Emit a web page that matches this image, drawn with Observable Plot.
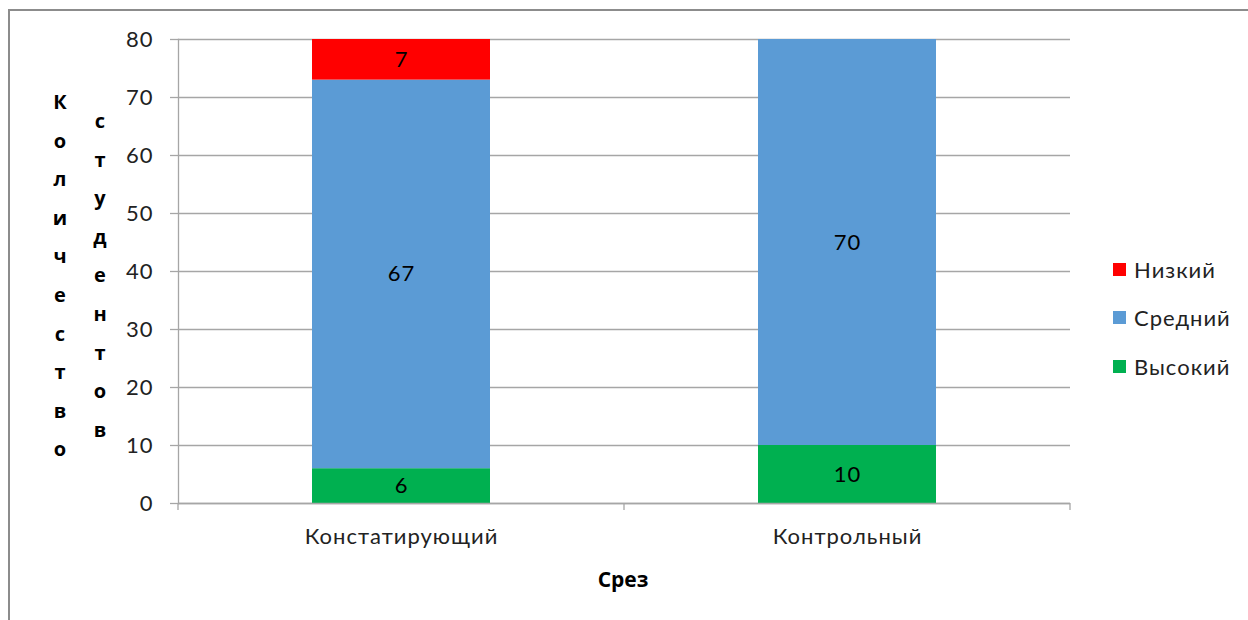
<!DOCTYPE html>
<html>
<head>
<meta charset="utf-8">
<script src="https://cdn.jsdelivr.net/npm/d3@7"></script>
<script src="https://cdn.jsdelivr.net/npm/@observablehq/plot@0.6"></script>
<style>
  html, body { margin: 0; padding: 0; background: #fff; }
  #wrap { position: relative; width: 1248px; height: 620px; overflow: hidden; font-family: Lato, "Noto Sans", sans-serif; }
  #frame { position: absolute; left: 8px; top: 9px; width: 1300px; height: 700px; border-left: 2px solid #8c8c8c; border-top: 2px solid #8c8c8c; }
  #chart { position: absolute; left: 0; top: 0; }
  .ylab { position: absolute; font-weight: bold; font-size: 20px; line-height: 38.6px; text-align: center; width: 30px; color: #000; font-family: "Open Sans", sans-serif; }
  #xlab { position: absolute; left: 573px; width: 100px; top: 565px; text-align: center; font-weight: bold; font-size: 21px; font-family: "Open Sans", sans-serif; }
  #legend { position: absolute; left: 1113px; top: 245px; font-size: 22px; letter-spacing: 1px; color: #222; }
  .li { height: 48.5px; display: flex; align-items: center; }
  .sw { width: 13px; height: 13px; margin-right: 8px; }
</style>
</head>
<body>
<div id="wrap">
  <div id="frame"></div>
  <div id="chart"></div>
  <div class="ylab" id="yl1" style="left:45px; top:83px;"></div>
  <div class="ylab" id="yl2" style="left:85px; top:102px;"></div>
  <div id="xlab"></div>
  <div id="legend"></div>
</div>
<script>
const categories = ["Констатирующий", "Контрольный"];
const levels = ["Высокий", "Средний", "Низкий"];
const colors = ["#00B050", "#5B9BD5", "#FF0000"];
const high = [6, 10];
const mid = [67, 70];
const low = [7, 0];
const yTicks = [0, 10, 20, 30, 40, 50, 60, 70, 80];
const yTitleA = "Количество";
const yTitleB = "студентов";
const xTitle = "Срез";

const series = [high, mid, low];
const rows = [];
categories.forEach((c, i) => {
  let base = 0;
  series.forEach((s, k) => {
    rows.push({cat: c, level: levels[k], value: s[i], mid: base + s[i] / 2});
    base += s[i];
  });
});

const boundaryTicks = (index, scales, values, dims) => {
  const g = d3.create("svg:g");
  const left = dims.marginLeft, right = dims.width - dims.marginRight;
  const x = scales.x;
  const bw = x.bandwidth ? x.bandwidth() : 0;
  const centers = categories.map(c => x(c) + bw / 2);
  const xs = [left];
  for (let i = 0; i < centers.length - 1; i++) xs.push((centers[i] + centers[i + 1]) / 2);
  xs.push(right);
  const y0 = dims.height - dims.marginBottom;
  xs.forEach(v => g.append("line").attr("x1", v).attr("x2", v).attr("y1", y0).attr("y2", y0 + 7).attr("stroke", "#a6a6a6").attr("stroke-width", 1.3));
  return g.node();
};

const chart = Plot.plot({
  width: 1248,
  height: 620,
  marginLeft: 178,
  marginRight: 178,
  marginTop: 39,
  marginBottom: 117,
  style: {fontFamily: "Lato, 'Noto Sans', sans-serif", fontSize: "22px", letterSpacing: "1px", color: "#222", background: "transparent"},
  x: {domain: categories, paddingInner: 0.6, paddingOuter: 0.3, label: null},
  y: {domain: [0, 80], label: null},
  color: {domain: levels, range: colors},
  marks: [
    Plot.gridY(yTicks, {stroke: "#a6a6a6", strokeOpacity: 1, strokeWidth: 1.3}),
    Plot.barY(rows, Plot.stackY({x: "cat", y: "value", fill: "level", order: null})),
    Plot.ruleY([0], {stroke: "#a6a6a6", strokeWidth: 1.3}),
    Plot.axisY({ticks: yTicks, tickSize: 8, tickPadding: 17, stroke: "#a6a6a6", strokeWidth: 1.3, tickFormat: d => d, fontSize: 22, label: null}),
    Plot.axisX({tickSize: 0, tickPadding: 25, fontSize: 22, label: null}),
    Plot.frame({anchor: "left", stroke: "#a6a6a6", strokeWidth: 1.3}),
    boundaryTicks,
    Plot.text(rows.filter(d => d.value > 0), {x: "cat", y: "mid", text: "value", fill: "#000", fontSize: 22})
  ]
});
document.getElementById("chart").appendChild(chart);

document.getElementById("yl1").innerHTML = [...yTitleA].join("<br>");
document.getElementById("yl2").innerHTML = [...yTitleB].join("<br>");
document.getElementById("xlab").textContent = xTitle;

const legend = document.getElementById("legend");
[...levels].reverse().forEach((l) => {
  const i = levels.indexOf(l);
  const d = document.createElement("div");
  d.className = "li";
  d.innerHTML = `<div class="sw" style="background:${colors[i]}"></div><span>${l}</span>`;
  legend.appendChild(d);
});
</script>
</body>
</html>
